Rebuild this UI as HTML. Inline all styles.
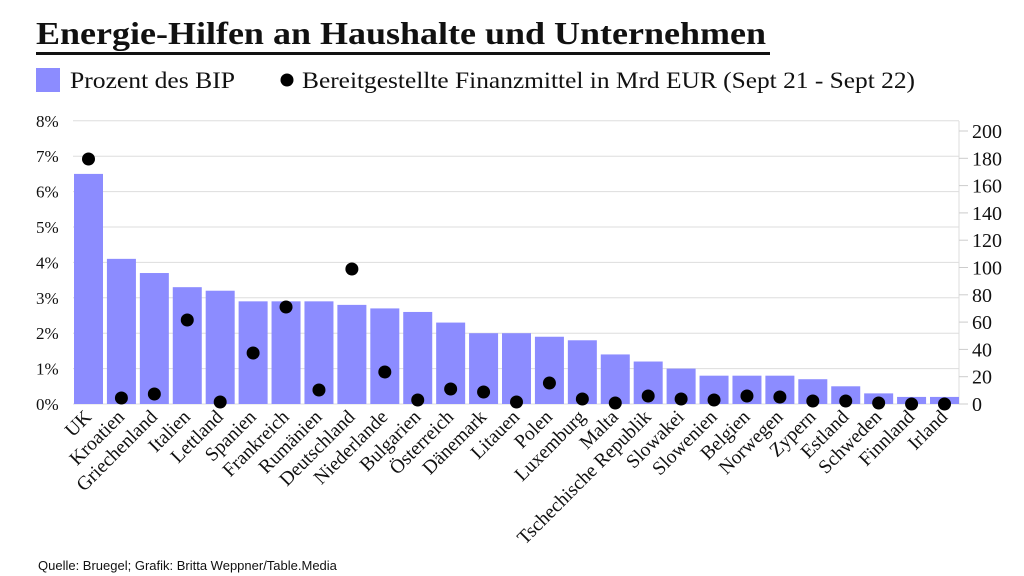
<!DOCTYPE html>
<html><head><meta charset="utf-8"><style>
body{margin:0;background:#fff;width:1024px;height:576px;overflow:hidden}
svg{display:block}
text{font-family:"Liberation Serif",serif;fill:#111}
</style></head><body>
<svg width="1024" height="576" viewBox="0 0 1024 576">
<text x="36" y="44" font-size="32" font-weight="bold" textLength="730" lengthAdjust="spacingAndGlyphs">Energie-Hilfen an Haushalte und Unternehmen</text>
<rect x="36" y="52" width="734" height="3" fill="#111"/>
<rect x="36" y="68" width="24" height="24" fill="#8c8cff"/>
<text x="70" y="88" font-size="23" textLength="165" lengthAdjust="spacingAndGlyphs">Prozent des BIP</text>
<circle cx="287" cy="80" r="6.5" fill="#000"/>
<text x="302" y="88" font-size="23" textLength="613" lengthAdjust="spacingAndGlyphs">Bereitgestellte Finanzmittel in Mrd EUR (Sept 21 - Sept 22)</text>
<g id="grid" stroke="#ddd" stroke-width="1"></g>
<line x1="959" y1="121" x2="959" y2="404" stroke="#ddd"/>
<g id="c"></g>
<text x="38" y="570" font-size="13" style="font-family:'Liberation Sans',sans-serif">Quelle: Bruegel; Grafik: Britta Weppner/Table.Media</text>
</svg>
<script>
const ns="http://www.w3.org/2000/svg";
function el(t,a,p,txt){const e=document.createElementNS(ns,t);for(const k in a)e.setAttribute(k,a[k]);if(txt!==undefined)e.textContent=txt;p.appendChild(e);return e;}
const g=document.getElementById('grid'),c=document.getElementById('c');
const y0=404,pp=35.4;
for(let k=0;k<=8;k++){const y=y0-pp*k;el('line',{x1:73,x2:959,y1:y,y2:y},g);
el('text',{x:36,y:y+6,'font-size':17,'font-family':'Liberation Sans, sans-serif'},c,k+'%');}
for(let k=0;k<=10;k++){const y=y0-27.3*k;el('line',{x1:959,x2:968,y1:y,y2:y,stroke:'#ccc'},c);
el('text',{x:972,y:y+7,'font-size':20},c,String(k*20));}
const d=[["UK",6.5,159],["Kroatien",4.1,398],["Griechenland",3.7,394],["Italien",3.3,320],["Lettland",3.2,402],["Spanien",2.9,353],["Frankreich",2.9,307],["Rumänien",2.9,390],["Deutschland",2.8,269],["Niederlande",2.7,372],["Bulgarien",2.6,400],["Österreich",2.3,389],["Dänemark",2.0,392],["Litauen",2.0,402],["Polen",1.9,383],["Luxemburg",1.8,399],["Malta",1.4,403],["Tschechische Republik",1.2,396],["Slowakei",1.0,399],["Slowenien",0.8,400],["Belgien",0.8,396],["Norwegen",0.8,397],["Zypern",0.7,401],["Estland",0.5,401],["Schweden",0.3,403],["Finnland",0.2,404],["Irland",0.2,404]];
const pitch=(930-74)/26;
d.forEach((r,i)=>{const x=74+pitch*i,cx=x+14.5,h=r[1]*pp;
el('rect',{x:x,y:y0-h,width:29,height:h,fill:'#8c8cff'},c);
el('circle',{cx:cx,cy:r[2],r:6.5,fill:'#000'},c);
el('text',{x:cx+4,y:418,'font-size':19.5,'text-anchor':'end',transform:`rotate(-45 ${cx+4} 418)`},c,r[0]);});
</script>
</body></html>
